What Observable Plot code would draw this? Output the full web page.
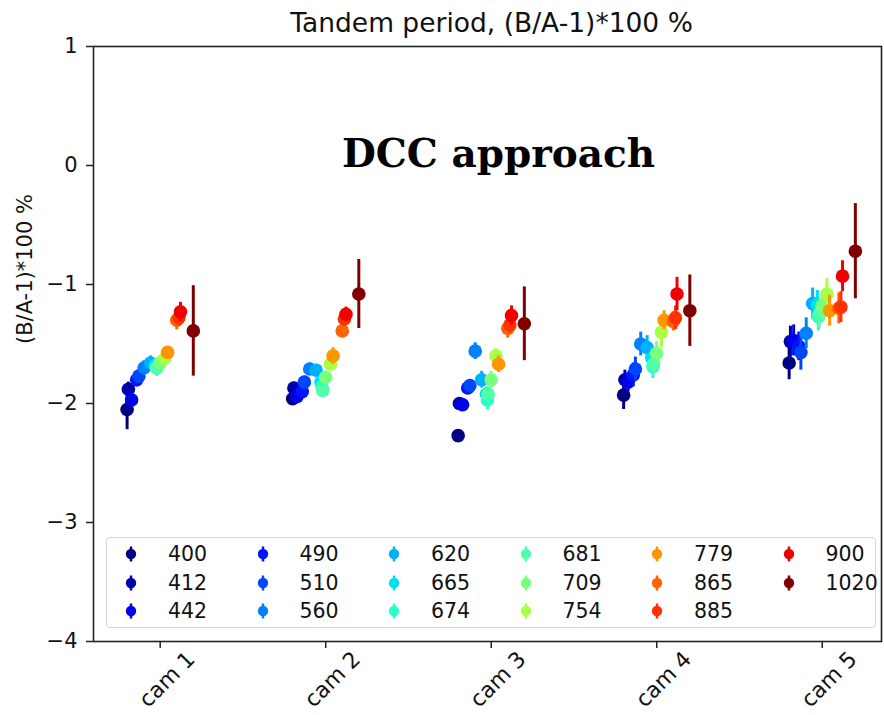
<!DOCTYPE html>
<html><head><meta charset="utf-8">
<script src="https://cdn.jsdelivr.net/npm/d3@7"></script>
<script src="https://cdn.jsdelivr.net/npm/@observablehq/plot@0.6"></script>
<style>
body{margin:0;background:#fff;}
#wrap{position:relative;width:884px;height:715px;font-family:"DejaVu Sans",sans-serif;}
#legend{position:absolute;left:106px;top:537px;width:770px;height:91px;box-sizing:border-box;border:1.5px solid #d6d6d6;border-radius:4px;background:rgba(255,255,255,0.85);}
.li{position:absolute;}
.lab{position:absolute;font-size:20.5px;color:#111;line-height:1;transform:translateY(-50%);white-space:nowrap;}
</style></head><body><div id="wrap"></div>
<script>
const cams = ["cam 1", "cam 2", "cam 3", "cam 4", "cam 5"];
const bands = [400, 412, 442, 490, 510, 560, 620, 665, 674, 681, 709, 754, 779, 865, 885, 900, 1020];
const bandColors = ["#000082", "#0000aa", "#0000eb", "#0014ff", "#0046ff", "#0082ff", "#00afff", "#00e1f0", "#28ffc8", "#50ffaa", "#78ff7d", "#aaff46", "#ff9600", "#ff6400", "#ff3200", "#f00000", "#800000"];
const yTicks = [-4, -3, -2, -1, 0, 1];

const cam1Values = [-2.05, -1.88, -1.97, -1.80, -1.77, -1.70, -1.66, -1.68, -1.70, -1.70, -1.66, -1.62, -1.57, -1.30, -1.28, -1.23, -1.39];
const cam2Values = [-1.96, -1.87, -1.94, -1.90, -1.82, -1.71, -1.72, -1.82, -1.86, -1.89, -1.78, -1.67, -1.60, -1.39, -1.29, -1.25, -1.08];
const cam3Values = [-2.27, -2.00, -2.01, -1.87, -1.85, -1.56, -1.80, -1.92, -1.97, -1.92, -1.80, -1.60, -1.67, -1.37, -1.34, -1.26, -1.33];
const cam4Values = [-1.93, -1.80, -1.82, -1.76, -1.71, -1.50, -1.53, -1.62, -1.69, -1.67, -1.58, -1.40, -1.30, -1.31, -1.28, -1.08, -1.22];
const cam5Values = [-1.66, -1.48, -1.47, -1.52, -1.57, -1.41, -1.16, -1.17, -1.27, -1.25, -1.18, -1.08, -1.22, -1.20, -1.19, -0.93, -0.72];

const cam1Errors = [0.17, 0.06, 0.06, 0.06, 0.06, 0.06, 0.06, 0.06, 0.07, 0.07, 0.06, 0.06, 0.05, 0.08, 0.07, 0.08, 0.38];
const cam2Errors = [0.04, 0.05, 0.05, 0.05, 0.05, 0.05, 0.05, 0.05, 0.05, 0.05, 0.05, 0.05, 0.07, 0.05, 0.05, 0.06, 0.29];
const cam3Errors = [0.03, 0.05, 0.05, 0.05, 0.05, 0.07, 0.07, 0.06, 0.08, 0.06, 0.07, 0.06, 0.07, 0.08, 0.07, 0.08, 0.31];
const cam4Errors = [0.12, 0.08, 0.08, 0.10, 0.10, 0.10, 0.10, 0.08, 0.10, 0.08, 0.10, 0.13, 0.08, 0.08, 0.10, 0.14, 0.30];
const cam5Errors = [0.14, 0.13, 0.13, 0.12, 0.15, 0.13, 0.13, 0.12, 0.12, 0.12, 0.12, 0.13, 0.13, 0.13, 0.13, 0.13, 0.40];

const titleText = "Tandem period, (B/A-1)*100 %";
const yLabel = "(B/A-1)*100 %";
const annotation = [{x: 3.044, y: 0, text: "DCC approach"}];

const allValues = [cam1Values, cam2Values, cam3Values, cam4Values, cam5Values];
const allErrors = [cam1Errors, cam2Errors, cam3Errors, cam4Errors, cam5Errors];

const rows = [];
allValues.forEach((vals, c) => vals.forEach((v, j) => rows.push({cam: c + 1, band: bands[j], value: v, err: allErrors[c][j]})));
// wavelength-dependent dodge within each camera
const xPos = d => d.cam - 0.2 + 0.4 * (d.band - bands[0]) / (bands[bands.length - 1] - bands[0]);

const fmtY = d => d < 0 ? "\u2212" + Math.abs(d) : String(d);
const font = "DejaVu Sans";

const dataMarks = bands.flatMap(b => {
  const sub = rows.filter(r => r.band === b);
  return [
    Plot.ruleX(sub, {x: xPos, y1: d => d.value - d.err, y2: d => d.value + d.err, stroke: "band", strokeWidth: 3}),
    Plot.dot(sub, {x: xPos, y: "value", fill: "band", r: 6.8})
  ];
});

const chart = Plot.plot({
  width: 884,
  height: 715,
  marginLeft: 93,
  marginRight: 3,
  marginTop: 46,
  marginBottom: 74,
  style: {fontFamily: font, background: "white", overflow: "visible"},
  x: {domain: [0.597, 5.358], label: null},
  y: {domain: [-4, 1], label: null},
  color: {type: "ordinal", domain: bands, range: bandColors},
  marks: [
    Plot.axisY(yTicks, {tickSize: 7, tickPadding: 9, fontSize: 21, tickFormat: fmtY, stroke: "#222", strokeWidth: 1.5, fill: "#111", label: null}),
    Plot.axisX([1, 2, 3, 4, 5], {tickSize: 7, tickFormat: () => "", stroke: "#222", strokeWidth: 1.5, label: null}),
    Plot.text([1, 2, 3, 4, 5], {x: d => d, frameAnchor: "bottom", text: d => cams[d - 1], rotate: -45, textAnchor: "end", lineAnchor: "middle", dx: 31, dy: 14, fontSize: 22, fontFamily: font, fill: "#111"}),
    ...dataMarks,
    Plot.text(annotation, {x: "x", y: "y", text: "text", fontSize: 39, fontWeight: "bold", fontFamily: "DejaVu Serif", lineAnchor: "middle", dy: -11, fill: "#000"}),
    Plot.text([titleText], {frameAnchor: "top", text: d => d, dy: -22.5, dx: 4, fontSize: 26.5, fontFamily: font, lineAnchor: "middle", fill: "#111"}),
    Plot.text([yLabel], {frameAnchor: "left", text: d => d, rotate: -90, dx: -68, fontSize: 21, fontFamily: font, lineAnchor: "middle", fill: "#111"}),
    Plot.frame({stroke: "#222", strokeWidth: 1.6})
  ]
});

const wrap = document.getElementById("wrap");
wrap.appendChild(chart);

// legend (inside the axes, bottom)
const legend = document.createElement("div");
legend.id = "legend";
bands.forEach((b, i) => {
  const col = Math.floor(i / 3), row = i % 3;
  const cx = 24 + col * 131.5, cy = 16 + row * 28.5;
  const ns = "http://www.w3.org/2000/svg";
  const s = document.createElementNS(ns, "svg");
  s.setAttribute("width", 14); s.setAttribute("height", 18);
  s.setAttribute("class", "li");
  s.style.left = (cx - 7) + "px"; s.style.top = (cy - 9) + "px";
  const ln = document.createElementNS(ns, "line");
  ln.setAttribute("x1", 7); ln.setAttribute("x2", 7); ln.setAttribute("y1", 1.5); ln.setAttribute("y2", 16.5);
  ln.setAttribute("stroke", bandColors[i]); ln.setAttribute("stroke-width", 2.5);
  const c = document.createElementNS(ns, "circle");
  c.setAttribute("cx", 7); c.setAttribute("cy", 9); c.setAttribute("r", 5.2); c.setAttribute("fill", bandColors[i]);
  s.appendChild(ln); s.appendChild(c);
  legend.appendChild(s);
  const lab = document.createElement("div");
  lab.className = "lab";
  lab.textContent = String(b);
  lab.style.left = (cx + 37) + "px"; lab.style.top = cy + "px";
  legend.appendChild(lab);
});
wrap.appendChild(legend);
</script></body></html>
